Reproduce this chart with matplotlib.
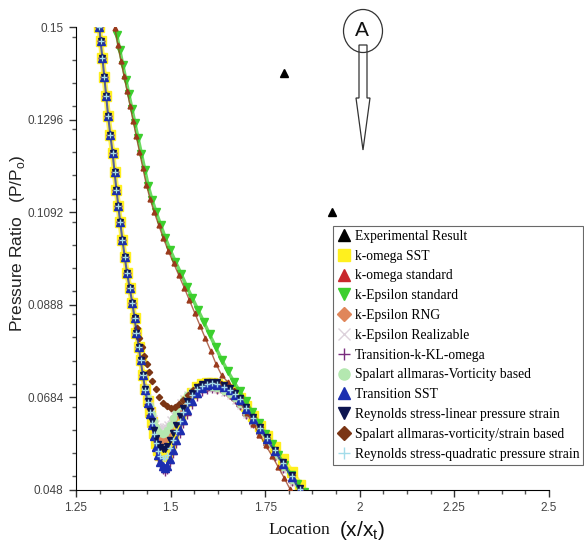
import matplotlib
matplotlib.use("Agg")
import matplotlib.pyplot as plt
from matplotlib.patches import Ellipse, Polygon
from matplotlib.ticker import MultipleLocator

# experimental points
x_exp = [1.800, 1.926]
y_exp = [0.1399, 0.1093]

# left family, shared upper branch
x_top = [1.312, 1.315, 1.320, 1.325, 1.330, 1.335, 1.341, 1.347, 1.352, 1.357, 1.362,
         1.367, 1.373, 1.379, 1.385, 1.392, 1.399, 1.405, 1.410, 1.416, 1.421, 1.427]
y_top = [0.1500, 0.1470, 0.1432, 0.1390, 0.1348, 0.1305, 0.1262, 0.1222, 0.1181, 0.1142, 0.1106,
         0.1070, 0.1031, 0.0993, 0.0958, 0.0925, 0.0892, 0.0859, 0.0826, 0.0796, 0.0766, 0.0733]

# left family, dip + tail
x_dip = [1.433, 1.440, 1.446, 1.451, 1.456, 1.461, 1.467, 1.473, 1.479, 1.485, 1.491, 1.498,
         1.506, 1.515, 1.525, 1.534, 1.543, 1.556, 1.570, 1.583, 1.596, 1.610, 1.623, 1.640,
         1.657, 1.670, 1.683, 1.700, 1.718, 1.736, 1.755, 1.776, 1.797, 1.820, 1.842]

y_sst = [0.0703, 0.0676, 0.0652, 0.0629, 0.0605, 0.0584, 0.0567, 0.0558, 0.0555, 0.0557, 0.0563, 0.0578,
         0.0596, 0.0616, 0.0637, 0.0657, 0.0675, 0.0693, 0.0706, 0.0713, 0.0716, 0.0716, 0.0714, 0.0709,
         0.0703, 0.0694, 0.0683, 0.0664, 0.0644, 0.0622, 0.0600, 0.0574, 0.0548, 0.0520, 0.0492]
y_rng = [0.0704, 0.0680, 0.0660, 0.0641, 0.0624, 0.0609, 0.0598, 0.0592, 0.0590, 0.0592, 0.0599, 0.0612,
         0.0627, 0.0643, 0.0659, 0.0673, 0.0685, 0.0696, 0.0703, 0.0706, 0.0707, 0.0706, 0.0703, 0.0697,
         0.0690, 0.0680, 0.0668, 0.0648, 0.0627, 0.0605, 0.0582, 0.0555, 0.0528, 0.0499, 0.0470]
y_real = [0.0706, 0.0685, 0.0667, 0.0652, 0.0639, 0.0628, 0.0621, 0.0618, 0.0618, 0.0620, 0.0626, 0.0636,
          0.0648, 0.0661, 0.0673, 0.0683, 0.0692, 0.0699, 0.0703, 0.0704, 0.0704, 0.0703, 0.0700, 0.0694,
          0.0687, 0.0677, 0.0665, 0.0645, 0.0624, 0.0602, 0.0579, 0.0552, 0.0525, 0.0496, 0.0467]
y_kkl = [0.0698, 0.0670, 0.0645, 0.0620, 0.0593, 0.0569, 0.0549, 0.0534, 0.0524, 0.0520, 0.0524, 0.0540,
         0.0560, 0.0582, 0.0604, 0.0626, 0.0646, 0.0667, 0.0684, 0.0695, 0.0701, 0.0703, 0.0701, 0.0696,
         0.0689, 0.0679, 0.0666, 0.0646, 0.0625, 0.0603, 0.0580, 0.0553, 0.0526, 0.0497, 0.0468]
y_sav = [0.0705, 0.0683, 0.0664, 0.0647, 0.0632, 0.0619, 0.0610, 0.0605, 0.0604, 0.0606, 0.0613, 0.0624,
         0.0638, 0.0652, 0.0666, 0.0678, 0.0689, 0.0698, 0.0704, 0.0707, 0.0708, 0.0707, 0.0705, 0.0699,
         0.0692, 0.0682, 0.0670, 0.0650, 0.0629, 0.0607, 0.0584, 0.0557, 0.0530, 0.0501, 0.0472]
y_tsst = [0.0700, 0.0672, 0.0648, 0.0624, 0.0598, 0.0575, 0.0556, 0.0542, 0.0532, 0.0528, 0.0532, 0.0548,
          0.0568, 0.0590, 0.0612, 0.0635, 0.0656, 0.0677, 0.0694, 0.0705, 0.0711, 0.0713, 0.0711, 0.0706,
          0.0700, 0.0690, 0.0678, 0.0658, 0.0637, 0.0615, 0.0592, 0.0565, 0.0538, 0.0509, 0.0480]
y_rsl = [0.0702, 0.0676, 0.0654, 0.0633, 0.0612, 0.0595, 0.0582, 0.0574, 0.0570, 0.0571, 0.0577, 0.0590,
         0.0606, 0.0624, 0.0643, 0.0661, 0.0677, 0.0694, 0.0706, 0.0714, 0.0718, 0.0719, 0.0717, 0.0711,
         0.0704, 0.0694, 0.0682, 0.0662, 0.0641, 0.0619, 0.0596, 0.0569, 0.0542, 0.0513, 0.0484]
y_rsq = [0.0701, 0.0674, 0.0651, 0.0628, 0.0604, 0.0583, 0.0565, 0.0555, 0.0550, 0.0551, 0.0557, 0.0572,
         0.0591, 0.0611, 0.0632, 0.0652, 0.0671, 0.0689, 0.0702, 0.0710, 0.0714, 0.0715, 0.0713, 0.0707,
         0.0701, 0.0691, 0.0680, 0.0660, 0.0639, 0.0617, 0.0594, 0.0567, 0.0540, 0.0511, 0.0482]

# Spalart allmaras vorticity/strain based, leaves the band earlier
x_sas = [1.399, 1.406, 1.412, 1.418, 1.424, 1.430, 1.437, 1.444, 1.452, 1.461, 1.470, 1.480,
         1.490, 1.500, 1.511, 1.522, 1.534, 1.547, 1.560, 1.574, 1.588, 1.603, 1.618, 1.634,
         1.650, 1.667, 1.684, 1.700, 1.718, 1.736, 1.755, 1.776, 1.797, 1.820, 1.842]
y_sas = [0.0892, 0.0862, 0.0838, 0.0815, 0.0795, 0.0776, 0.0757, 0.0739, 0.0720, 0.0702, 0.0685, 0.0672,
         0.0664, 0.0661, 0.0663, 0.0669, 0.0679, 0.0690, 0.0700, 0.0708, 0.0713, 0.0716, 0.0716, 0.0713,
         0.0707, 0.0697, 0.0682, 0.0662, 0.0640, 0.0618, 0.0595, 0.0568, 0.0541, 0.0512, 0.0483]

# right family: k-Epsilon standard
x_kes = [1.358, 1.366, 1.374, 1.382, 1.390, 1.398, 1.406, 1.414, 1.423, 1.432, 1.441, 1.451, 1.462,
         1.474, 1.486, 1.499, 1.513, 1.528, 1.543, 1.558, 1.573, 1.588, 1.603, 1.619, 1.635, 1.651,
         1.667, 1.683, 1.699, 1.716, 1.733, 1.750, 1.767, 1.784, 1.801, 1.818, 1.835, 1.852]
y_kes = [0.1482, 0.1449, 0.1416, 0.1384, 0.1352, 0.1320, 0.1288, 0.1256, 0.1221, 0.1186, 0.1150, 0.1120,
         0.1092, 0.1064, 0.1036, 0.1009, 0.0983, 0.0956, 0.0928, 0.0902, 0.0876, 0.0850, 0.0823, 0.0795,
         0.0767, 0.0742, 0.0719, 0.0697, 0.0675, 0.0651, 0.0627, 0.0604, 0.0581, 0.0558, 0.0536, 0.0514,
         0.0494, 0.0475]

# right family: k-omega standard
x_kws = [1.353, 1.361, 1.369, 1.377, 1.385, 1.393, 1.401, 1.409, 1.418, 1.427, 1.436, 1.446, 1.457,
         1.469, 1.481, 1.494, 1.508, 1.522, 1.536, 1.550, 1.564, 1.578, 1.592, 1.606, 1.620, 1.635,
         1.651, 1.667, 1.684, 1.701, 1.718, 1.735, 1.752, 1.769, 1.785, 1.800, 1.815]
y_kws = [0.1498, 0.1460, 0.1426, 0.1393, 0.1360, 0.1327, 0.1294, 0.1261, 0.1225, 0.1189, 0.1153, 0.1121,
         0.1092, 0.1063, 0.1035, 0.1007, 0.0980, 0.0953, 0.0926, 0.0898, 0.0870, 0.0842, 0.0814, 0.0787,
         0.0758, 0.0733, 0.0718, 0.0697, 0.0673, 0.0650, 0.0626, 0.0602, 0.0578, 0.0554, 0.0530, 0.0507,
         0.0483]

y_ticks = [0.048, 0.0684, 0.0888, 0.1092, 0.1296, 0.15]
y_tick_labels = ["0.048", "0.0684", "0.0888", "0.1092", "0.1296", "0.15"]
x_ticks = [1.25, 1.5, 1.75, 2.0, 2.25, 2.5]
x_tick_labels = ["1.25", "1.5", "1.75", "2", "2.25", "2.5"]

fig = plt.figure(figsize=(5.84, 5.53), dpi=100)
ax = fig.add_axes([0.130, 0.114, 0.81, 0.837])

def series(x, y, color, marker, ms, label, z=2, legend_ms=9, lw=0):
    # thin trace behind the markers stands in for the very dense sampling of the original
    if lw:
        ax.plot(x, y, color=color, lw=lw, alpha=0.75, zorder=z - 0.5)
    line, = ax.plot(x, y, linestyle="none", marker=marker, ms=ms, color=color,
                    mew=1.0, zorder=z, label=label)
    line.legend_ms = legend_ms

left_x = x_top + x_dip
series(left_x, y_top + y_sst, "#fff01e", "s", 6.5, "k-omega SST", z=1, lw=4)
series(x_kes, y_kes, "#3ccf2e", "v", 5.5, "k-Epsilon standard", z=2, lw=2.5)
series(x_kws, y_kws, "#9a3a1c", "^", 3.5, "k-omega standard", z=3, lw=1.0)
series(left_x, y_top + y_rng, "#e0865a", "D", 4, "k-Epsilon RNG", z=2, legend_ms=7)
series(left_x, y_top + y_real, "#ddd2dc", "x", 5, "k-Epsilon Realizable", z=2)
series(left_x, y_top + y_kkl, "#7a2c7e", "+", 5.5, "Transition-k-KL-omega", z=2)
series(left_x, y_top + y_sav, "#b4e8b0", "o", 4.5, "Spalart allmaras-Vorticity based", z=2, legend_ms=8)
series(left_x, y_top + y_tsst, "#1c2eb0", "^", 5.5, "Transition SST", z=4, lw=1.5)
series(left_x, y_top + y_rsl, "#0c1450", "v", 4.5, "Reynolds stress-linear pressure strain", z=4)
series(x_top[:16] + x_sas, y_top[:16] + y_sas, "#7b3514", "D", 3.2,
       "Spalart allmaras-vorticity/strain based", z=3, legend_ms=7)
series(left_x, y_top + y_rsq, "#a4dcea", "+", 5, "Reynolds stress-quadratic pressure strain", z=5)
series(x_exp, y_exp, "black", "^", 6, "Experimental Result", z=6)

ax.set_xlim(1.25, 2.5)
ax.set_ylim(0.048, 0.15)
for s in ["top", "right"]:
    ax.spines[s].set_visible(False)
ax.set_xticks(x_ticks)
ax.set_xticklabels(x_tick_labels)
ax.set_yticks(y_ticks)
ax.set_yticklabels(y_tick_labels)
ax.xaxis.set_minor_locator(MultipleLocator(0.0625))
ax.yaxis.set_minor_locator(MultipleLocator(0.0051))
ax.tick_params(which="major", length=5, width=1, color="#333333", labelsize=8.5,
               labelcolor="#444444", pad=4)
ax.tick_params(which="minor", length=3, width=1, color="#555555")
for t in ax.get_xticklabels() + ax.get_yticklabels():
    t.set_family("Liberation Sans")

# axis titles
fig.text(0.03, 0.56, "Pressure Ratio   (P/P$_\\mathregular{o}$)", rotation=90,
         ha="center", va="center", fontsize=12.5, family="Liberation Sans", color="#222222")
fig.text(0.565, 0.028, "Location", ha="right", va="bottom", fontsize=12.5,
         family="Liberation Serif", color="#111111")
fig.text(0.58, 0.02, "(x/x$_\\mathregular{t}$)", ha="left", va="bottom", fontsize=15,
         family="Liberation Sans", color="#111111")

# legend, order as in the reference
order = ["Experimental Result", "k-omega SST", "k-omega standard", "k-Epsilon standard",
         "k-Epsilon RNG", "k-Epsilon Realizable", "Transition-k-KL-omega",
         "Spalart allmaras-Vorticity based", "Transition SST",
         "Reynolds stress-linear pressure strain", "Spalart allmaras-vorticity/strain based",
         "Reynolds stress-quadratic pressure strain"]
hmap = {ln.get_label(): ln for ln in ax.get_lines()}
leg_h = []
for name in order:
    src = hmap[name]
    c = "#c8282d" if name == "k-omega standard" else src.get_color()
    leg_h.append(plt.Line2D([], [], linestyle="none", marker=src.get_marker(),
                            color=c, ms=src.legend_ms, mew=1.0))
leg = fig.legend(leg_h, order, loc="upper left", bbox_to_anchor=(0.571, 0.592),
                 frameon=True, fancybox=False, borderpad=0.3, labelspacing=0.5,
                 handlelength=0.9, handletextpad=0.35, borderaxespad=0,
                 prop={"family": "Liberation Serif", "size": 9.8})
leg.get_frame().set_edgecolor("#444444")
leg.get_frame().set_linewidth(0.8)

# circled "A" with hollow arrow
def fx(px):
    return px / 584.0

def fy(py):
    return 1 - py / 553.0

fig.patches.append(Ellipse((fx(363), fy(31)), 39 / 584, 43 / 553, fill=False,
                           edgecolor="#333333", lw=0.9, transform=fig.transFigure))
fig.text(fx(362), fy(31), "A", ha="center", va="center", fontsize=15,
         family="Liberation Sans", color="#111111")
arrow = [(359, 45), (359, 98), (356, 98), (363, 150), (370, 98), (367, 98), (367, 45)]
fig.patches.append(Polygon([(fx(a), fy(b)) for a, b in arrow], closed=True, fill=False,
                           edgecolor="#333333", lw=0.9, transform=fig.transFigure))

fig.savefig("out.png", dpi=100)
